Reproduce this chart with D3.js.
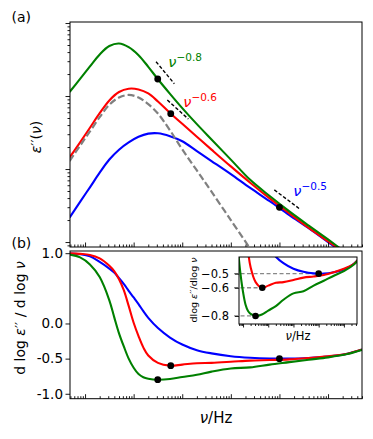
<!DOCTYPE html>
<html>
<head>
<meta charset="utf-8">
<script src="https://cdn.jsdelivr.net/npm/d3@7"></script>
<style>
  body { margin: 0; background: #fff; }
  text { font-family: "DejaVu Sans", sans-serif; fill: #000; }
</style>
</head>
<body>
<div id="chart"></div>
<script>
// ---- data ----
// frequency grid for panel (a), Hz
var nuA = [0.48, 0.79, 1.26, 2, 3.16, 5, 7.9, 12.6, 20, 31.6, 56, 100, 200, 400, 1000, 2500, 6300, 16000, 40000, 1e5, 2.5e5];
var epsGreen = [1.135, 1.718, 2.541, 3.715, 4.842, 5.248, 4.677, 3.631, 2.512, 1.698, 1.072, 0.684, 0.412, 0.254, 0.1346, 0.0711, 0.0427, 0.0263, 0.0168, 0.01084, 0.00692];
var epsRed = [0.1435, 0.2317, 0.3673, 0.5821, 0.871, 1.135, 1.259, 1.230, 1.084, 0.841, 0.586, 0.417, 0.2767, 0.1845, 0.1086, 0.0649, 0.0396, 0.0247, 0.0156, 0.01023, 0.00676];
var epsBlue = [0.02163, 0.0355, 0.0562, 0.0891, 0.1349, 0.1841, 0.2317, 0.2767, 0.3055, 0.309, 0.2818, 0.2399, 0.1758, 0.1288, 0.0851, 0.0550, 0.0363, 0.0234, 0.0155, 0.0100, 0.00646];
// grey dashed reference (first points of nuA)
var epsDebye = [0.1288, 0.2089, 0.3273, 0.5129, 0.7586, 0.955, 1.035, 0.955, 0.776, 0.575, 0.339, 0.1862, 0.0955, 0.0490, 0.01995, 0.00813];

// frequency grid for panel (b), Hz
var nuB = [0.48, 0.79, 1.26, 2, 3.16, 3.98, 5, 6.3, 7.9, 10, 12.6, 15.8, 20, 31.6, 56, 100, 200, 400, 1000, 2500, 6300, 16000, 40000, 1e5, 2.5e5, 5e5];
var slopeGreen = [0.98, 0.94, 0.84, 0.66, 0.33, 0.09, -0.14, -0.33, -0.50, -0.63, -0.72, -0.765, -0.785, -0.80, -0.79, -0.762, -0.73, -0.685, -0.64, -0.625, -0.585, -0.55, -0.515, -0.482, -0.435, -0.375];
var slopeRed = [0.998, 0.99, 0.975, 0.925, 0.82, 0.745, 0.63, 0.47, 0.25, 0.01, -0.18, -0.34, -0.455, -0.56, -0.60, -0.585, -0.565, -0.56, -0.545, -0.528, -0.52, -0.51, -0.49, -0.465, -0.43, -0.37];
var slopeBlue = [0.995, 0.985, 0.955, 0.875, 0.78, 0.725, 0.645, 0.56, 0.465, 0.37, 0.275, 0.175, 0.08, -0.065, -0.2, -0.30, -0.38, -0.425, -0.465, -0.487, -0.498, -0.50, -0.49, -0.47, -0.43, -0.37];

// marked points
var markNu = [31.3, 58, 10000];
var markEps = [1.71, 0.573, 0.0299];
var markSlope = [-0.8, -0.6, -0.5];
var markColor = ["green", "red", "blue"];

// power-law guide lines
var guideExp = [-0.8, -0.6, -0.5];
var guideNu0 = [28.9, 49.3, 7850];
var guideNu1 = [68.7, 133.7, 25300];
var guideEps0 = [2.95, 0.881, 0.0518];
var guideLabelNu = [51.7, 105, 19300];
var guideLabelEps = [2.46, 0.713, 0.0427];
var guideLabels = ["\u22120.8", "\u22120.6", "\u22120.5"];

// tick labels
var slopeTicks = [1, 0, -0.5, -1];
var slopeTickLabels = ["1.0", "0.0", "-0.5", "-1.0"];
var insetTicks = [-0.5, -0.6, -0.8];
var insetTickLabels = ["\u22120.5", "\u22120.6", "\u22120.8"];

// ---- layout ----
var width = 373, height = 439;
var left = 70, right = 362;
var aTop = 22, aBottom = 247;
var bTop = 251, bBottom = 398.7;
var inL = 239, inR = 357, inT = 257, inB = 324;

var svg = d3.select("#chart").append("svg")
    .attr("width", width)
    .attr("height", height);

var x = d3.scaleLog().domain([0.49, 5.0e5]).range([left, right]);
var ya = d3.scaleLog().domain([0.00855, 10.33]).range([aBottom, aTop]);
var yb = d3.scaleLinear().domain([-1.07, 1.031]).range([bBottom, bTop]);
var xi = d3.scaleLog().domain([6.92, 3.31e5]).range([inL, inR]);
var yi = d3.scaleLinear().domain([-0.857, -0.382]).range([inB, inT]);

// log ticks split in majors (decades) and minors
function logTicks(scale) {
    var d = scale.domain(), major = [], minor = [];
    for (var e = Math.floor(Math.log10(d[0])); e <= Math.ceil(Math.log10(d[1])); e++) {
        for (var k = 1; k < 10; k++) {
            var v = k * Math.pow(10, e);
            if (v >= d[0] * 0.999 && v <= d[1] * 1.001) (k === 1 ? major : minor).push(v);
        }
    }
    return {major: major, minor: minor};
}

function tickGroup(y0, axis) {
    var g = svg.append("g").attr("transform", y0).call(axis);
    g.select(".domain").remove();
    g.selectAll(".tick line").attr("stroke", "#000").attr("stroke-width", 0.9);
    return g;
}

var defs = svg.append("defs");
defs.append("clipPath").attr("id", "clipA").append("rect")
    .attr("x", left).attr("y", aTop).attr("width", right - left).attr("height", aBottom - aTop);
defs.append("clipPath").attr("id", "clipB").append("rect")
    .attr("x", left).attr("y", bTop).attr("width", right - left).attr("height", bBottom - bTop);
defs.append("clipPath").attr("id", "clipI").append("rect")
    .attr("x", inL).attr("y", inT).attr("width", inR - inL).attr("height", inB - inT);

// ================= panel (a) =================
var lineA = d3.line()
    .x(function (d) { return x(d[0]); })
    .y(function (d) { return ya(d[1]); })
    .curve(d3.curveCatmullRom.alpha(0.5));

var gA = svg.append("g").attr("clip-path", "url(#clipA)");
[[epsBlue, "blue"], [epsRed, "red"], [epsGreen, "green"]].forEach(function (s) {
    gA.append("path")
        .datum(nuA.map(function (n, i) { return [n, s[0][i]]; }))
        .attr("fill", "none")
        .attr("stroke", s[1])
        .attr("stroke-width", 2.1)
        .attr("d", lineA);
});
gA.append("path")
    .datum(epsDebye.map(function (e, i) { return [nuA[i], e]; }))
    .attr("fill", "none")
    .attr("stroke", "#808080")
    .attr("stroke-width", 2.2)
    .attr("stroke-dasharray", "7,3")
    .attr("d", lineA);

// guide lines
guideExp.forEach(function (p, i) {
    var e1 = guideEps0[i] * Math.pow(guideNu1[i] / guideNu0[i], p);
    svg.append("line")
        .attr("x1", x(guideNu0[i])).attr("y1", ya(guideEps0[i]))
        .attr("x2", x(guideNu1[i])).attr("y2", ya(e1))
        .attr("stroke", "#000")
        .attr("stroke-width", 1.4)
        .attr("stroke-dasharray", "3.5,2");
    var t = svg.append("text")
        .attr("x", x(guideLabelNu[i]))
        .attr("y", ya(guideLabelEps[i]))
        .style("font-size", "14.5px");
    t.append("tspan").attr("font-style", "italic").style("fill", markColor[i]).text("\u03bd");
    t.append("tspan").attr("dy", -6).style("font-size", "10.5px").style("fill", markColor[i]).text(guideLabels[i]);
});

svg.selectAll(".dotA")
    .data(markNu)
    .enter().append("circle")
    .attr("cx", function (d) { return x(d); })
    .attr("cy", function (d, i) { return ya(markEps[i]); })
    .attr("r", 3.4)
    .attr("fill", "#000");

// axes (a)
var tx = logTicks(x), tya = logTicks(ya);
tickGroup("translate(0," + aBottom + ")", d3.axisBottom(x).tickValues(tx.major).tickSize(-4.5).tickFormat(""));
tickGroup("translate(0," + aBottom + ")", d3.axisBottom(x).tickValues(tx.minor).tickSize(-2.5).tickFormat(""));
tickGroup("translate(" + left + ",0)", d3.axisLeft(ya).tickValues(tya.major).tickSize(4.5).tickFormat(""));
tickGroup("translate(" + left + ",0)", d3.axisLeft(ya).tickValues(tya.minor).tickSize(2.5).tickFormat(""));

svg.append("rect")
    .attr("x", left).attr("y", aTop)
    .attr("width", right - left).attr("height", aBottom - aTop)
    .attr("fill", "none").attr("stroke", "#000").attr("stroke-width", 1);

// ================= panel (b) =================
var lineB = d3.line()
    .x(function (d) { return x(d[0]); })
    .y(function (d) { return yb(d[1]); })
    .curve(d3.curveCatmullRom.alpha(0.5));

var gB = svg.append("g").attr("clip-path", "url(#clipB)");
[[slopeBlue, "blue"], [slopeRed, "red"], [slopeGreen, "green"]].forEach(function (s) {
    gB.append("path")
        .datum(nuB.map(function (n, i) { return [n, s[0][i]]; }))
        .attr("fill", "none")
        .attr("stroke", s[1])
        .attr("stroke-width", 2.1)
        .attr("d", lineB);
});

svg.selectAll(".dotB")
    .data(markNu)
    .enter().append("circle")
    .attr("cx", function (d) { return x(d); })
    .attr("cy", function (d, i) { return yb(markSlope[i]); })
    .attr("r", 3.4)
    .attr("fill", "#000");

tickGroup("translate(0," + bBottom + ")", d3.axisBottom(x).tickValues(tx.major).tickSize(-4.5).tickFormat(""));
tickGroup("translate(0," + bBottom + ")", d3.axisBottom(x).tickValues(tx.minor).tickSize(-2.5).tickFormat(""));
var gyb = tickGroup("translate(" + left + ",0)", d3.axisLeft(yb).tickValues(slopeTicks).tickSize(4.5).tickPadding(2.5)
    .tickFormat(function (d, i) { return slopeTickLabels[i]; }));
gyb.attr("font-family", null).attr("font-size", null);
gyb.selectAll("text").style("font-size", "13.5px");

svg.append("rect")
    .attr("x", left).attr("y", bTop)
    .attr("width", right - left).attr("height", bBottom - bTop)
    .attr("fill", "none").attr("stroke", "#000").attr("stroke-width", 1);

// ================= inset =================
svg.append("rect")
    .attr("x", inL).attr("y", inT)
    .attr("width", inR - inL).attr("height", inB - inT)
    .attr("fill", "#fff");

var lineI = d3.line()
    .x(function (d) { return xi(d[0]); })
    .y(function (d) { return yi(d[1]); })
    .curve(d3.curveCatmullRom.alpha(0.5));

// dashed level lines up to each marked point
markNu.forEach(function (n, i) {
    svg.append("line")
        .attr("x1", xi(4.4)).attr("x2", xi(n))
        .attr("y1", yi(markSlope[i])).attr("y2", yi(markSlope[i]))
        .attr("stroke", "#888")
        .attr("stroke-width", 1.3)
        .attr("stroke-dasharray", "4,2.5");
});

var gI = svg.append("g").attr("clip-path", "url(#clipI)");
[[slopeBlue, "blue"], [slopeRed, "red"], [slopeGreen, "green"]].forEach(function (s) {
    gI.append("path")
        .datum(nuB.map(function (n, i) { return [n, s[0][i]]; }))
        .attr("fill", "none")
        .attr("stroke", s[1])
        .attr("stroke-width", 2.1)
        .attr("d", lineI);
});

svg.selectAll(".dotI")
    .data(markNu)
    .enter().append("circle")
    .attr("cx", function (d) { return xi(d); })
    .attr("cy", function (d, i) { return yi(markSlope[i]); })
    .attr("r", 3.3)
    .attr("fill", "#000");

var txi = logTicks(xi);
tickGroup("translate(0," + inB + ")", d3.axisBottom(xi).tickValues(txi.major).tickSize(3.5).tickFormat(""));
tickGroup("translate(0," + inB + ")", d3.axisBottom(xi).tickValues(txi.minor).tickSize(2).tickFormat(""));
var gyi = tickGroup("translate(" + inL + ",0)", d3.axisLeft(yi).tickValues(insetTicks).tickSize(4).tickPadding(6)
    .tickFormat(function (d, i) { return insetTickLabels[i]; }));
gyi.attr("font-family", null).attr("font-size", null);
gyi.selectAll("text").style("font-size", "11.5px");

svg.append("rect")
    .attr("x", inL).attr("y", inT)
    .attr("width", inR - inL).attr("height", inB - inT)
    .attr("fill", "none").attr("stroke", "#000").attr("stroke-width", 1);

// ================= labels =================
svg.append("text").attr("x", 11.5).attr("y", 21.5).style("font-size", "14px").text("(a)");
svg.append("text").attr("x", 11.5).attr("y", 248).style("font-size", "14px").text("(b)");

var yla = svg.append("text")
    .attr("transform", "translate(41,137) rotate(-90)")
    .attr("text-anchor", "middle")
    .style("font-size", "14px");
yla.append("tspan").attr("font-style", "italic").text("\u03b5");
yla.append("tspan").text("\u2032\u2032(");
yla.append("tspan").attr("font-style", "italic").text("\u03bd");
yla.append("tspan").text(")");

var ylb = svg.append("text")
    .attr("transform", "translate(25,318) rotate(-90)")
    .attr("text-anchor", "middle")
    .style("font-size", "14px");
ylb.append("tspan").text("d log ");
ylb.append("tspan").attr("font-style", "italic").text("\u03b5");
ylb.append("tspan").text("\u2032\u2032 / d log ");
ylb.append("tspan").attr("font-style", "italic").text("\u03bd");

var xl = svg.append("text")
    .attr("x", (left + right) / 2)
    .attr("y", 423)
    .attr("text-anchor", "middle")
    .style("font-size", "15px");
xl.append("tspan").attr("font-style", "italic").text("\u03bd");
xl.append("tspan").text("/Hz");

var yli = svg.append("text")
    .attr("transform", "translate(196.5,290) rotate(-90)")
    .attr("text-anchor", "middle")
    .style("font-size", "9.5px");
yli.append("tspan").text("dlog ");
yli.append("tspan").attr("font-style", "italic").text("\u03b5");
yli.append("tspan").text("\u2032\u2032/dlog ");
yli.append("tspan").attr("font-style", "italic").text("\u03bd");

var xli = svg.append("text")
    .attr("x", (inL + inR) / 2)
    .attr("y", 340)
    .attr("text-anchor", "middle")
    .style("font-size", "11.5px");
xli.append("tspan").attr("font-style", "italic").text("\u03bd");
xli.append("tspan").text("/Hz");
</script>
</body>
</html>
